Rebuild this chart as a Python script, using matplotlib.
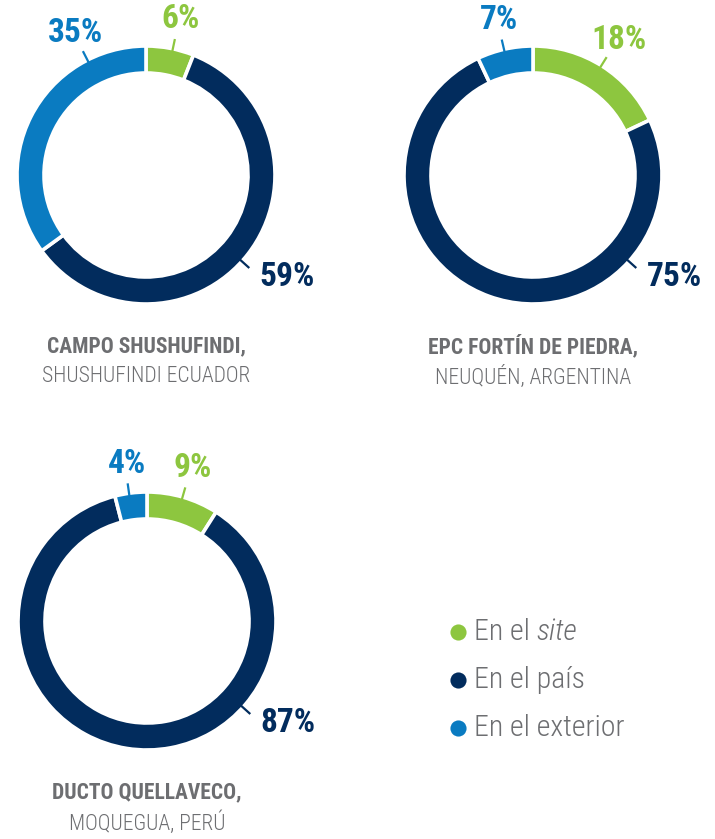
import matplotlib.pyplot as plt
import numpy as np
from matplotlib import font_manager

# Origen del personal por proyecto (%)
categorias = ['En el site', 'En el país', 'En el exterior']
proyectos = ['CAMPO SHUSHUFINDI,', 'EPC FORTÍN DE PIEDRA,', 'DUCTO QUELLAVECO,']
ubicaciones = ['SHUSHUFINDI ECUADOR', 'NEUQUÉN, ARGENTINA', 'MOQUEGUA, PERÚ']
en_site = [6, 18, 9]
en_pais = [59, 75, 87]
en_exterior = [35, 7, 4]

colores = ['#8dc63f', '#022c5d', '#0a7bc1']
gris = '#6d6e71'

# familia: la condensada si existe
instaladas = {f.name for f in font_manager.fontManager.ttflist}
familia = 'Roboto'
for nombre in ['Roboto Condensed', 'Liberation Sans Narrow', 'Roboto']:
    if nombre in instaladas:
        familia = nombre
        break
plt.rcParams['font.family'] = [familia, 'DejaVu Sans']

W, H = 715, 839
fig = plt.figure(figsize=(W / 100, H / 100), dpi=100)
ax = fig.add_axes([0, 0, 1, 1])

# posiciones en pixeles (y desde arriba)
centros = [(146, 175), (533, 175), (147, 621)]
radio = 129
ancho = 27
# angulo de la linea guia de cada etiqueta (site, país, exterior)
angulos = [(78, -42, 117), (58, -42, 103), (74, -42, 98)]


def yy(y):
    return H - y


for i, (cx, cy) in enumerate(centros):
    valores = [en_site[i], en_pais[i], en_exterior[i]]
    ax.pie(valores, colors=colores, startangle=90, counterclock=False,
           center=(cx, yy(cy)), radius=radio,
           wedgeprops=dict(width=ancho, edgecolor='white', linewidth=2.6))

    for v, col, ang in zip(valores, colores, angulos[i]):
        a = np.deg2rad(ang)
        x0, y0 = cx + 124 * np.cos(a), yy(cy) + 124 * np.sin(a)
        x1, y1 = cx + 139 * np.cos(a), yy(cy) + 139 * np.sin(a)
        ax.plot([x0, x1], [y0, y1], color=col, lw=1.6, solid_capstyle='butt')
        if np.sin(a) > 0.5:
            tx, ty = cx + 159 * np.cos(a), yy(cy) + 159 * np.sin(a)
            ax.text(tx + 2, ty, f'{v}%', color=col, fontsize=24, fontweight='bold',
                    ha='center', va='center')
        else:
            tx, ty = cx + 153 * np.cos(a), yy(cy) + 153 * np.sin(a)
            ax.text(tx, ty, f'{v}%', color=col, fontsize=24, fontweight='bold',
                    ha='left', va='center')

    ax.text(cx, yy(cy + 171), proyectos[i], color=gris, fontsize=15.5,
            fontweight='bold', ha='center', va='center')
    ax.text(cx, yy(cy + 202), ubicaciones[i], color=gris, fontsize=15.5,
            fontweight='light', ha='center', va='center')

# leyenda
ley_y = [632, 680, 728]
for cat, col, ly in zip(categorias, colores, ley_y):
    ax.scatter([458], [yy(ly)], s=135, color=col, zorder=3, linewidths=0)
    if cat.endswith('site'):
        t = ax.text(474, yy(ly), 'En el', color=gris, fontsize=21.5,
                    fontweight='light', ha='left', va='center')
        ax.annotate('site', xy=(1, 0), xycoords=t, xytext=(6, 0),
                    textcoords='offset pixels', color=gris, fontsize=21.5,
                    fontweight='light', fontstyle='italic', ha='left', va='bottom')
    else:
        ax.text(474, yy(ly), cat, color=gris, fontsize=21.5,
                fontweight='light', ha='left', va='center')

ax.set_xlim(0, W)
ax.set_ylim(0, H)
ax.set_aspect('equal')
ax.axis('off')

fig.savefig('out.png', dpi=100, facecolor='white')
